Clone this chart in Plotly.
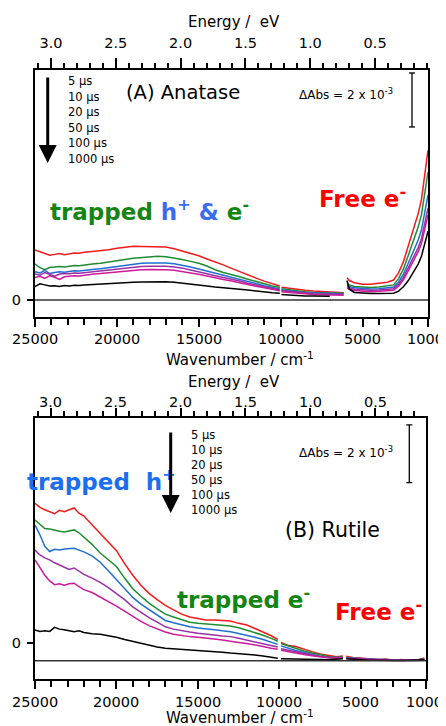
import plotly.graph_objects as go

# page body has an 8 px default margin: the figure is sized to fill the rest of the window
OFF = 8
W, H = 446 - OFF, 726 - OFF

# ---------------- data ----------------
wn_A = [25000, 24700, 24400, 24100, 23800, 23500, 23200, 22900, 22600, 22300, 22000, 21500, 21000, 20500,
        20000, 19500, 19000, 18500, 18000, 17500, 17000, 16500, 16000, 15500, 15000, 14500, 14000, 13500,
        13000, 12500, 12000, 11500, 11000, 10500, 10050,
        None,
        9950, 9500, 9000, 8500, 8000, 7500, 7000, 6500, 6150,
        None,
        5950, 5800, 5500, 5000, 4500, 4000, 3500, 3100, 2800, 2500, 2200, 2000, 1800, 1600, 1400, 1200, 1100, 1000]

A_5us = [1.85, 1.78, 1.72, 1.66, 1.69, 1.72, 1.68, 1.70, 1.74, 1.73, 1.77, 1.80, 1.83, 1.86,
         1.92, 1.95, 1.99, 1.98, 1.97, 1.98, 1.96, 1.90, 1.82, 1.74, 1.64, 1.52, 1.42, 1.30,
         1.17, 1.04, 0.92, 0.81, 0.70, 0.60, 0.52,
         None,
         0.47, 0.43, 0.40, 0.36, 0.33, 0.31, 0.30, 0.28, 0.27,
         None,
         0.82, 0.72, 0.64, 0.58, 0.58, 0.62, 0.66, 0.74, 1.00, 1.42, 2.00, 2.40, 2.75, 3.20, 3.72, 4.60, 5.00, 5.55]
A_10us = [1.33, 1.20, 1.12, 1.20, 1.22, 1.24, 1.22, 1.25, 1.28, 1.27, 1.30, 1.33, 1.36, 1.40,
          1.45, 1.50, 1.55, 1.58, 1.60, 1.62, 1.60, 1.56, 1.50, 1.43, 1.36, 1.26, 1.12, 1.02,
          0.95, 0.86, 0.77, 0.68, 0.60, 0.52, 0.46,
          None,
          0.42, 0.38, 0.35, 0.31, 0.28, 0.27, 0.26, 0.25, 0.25,
          None,
          0.62, 0.56, 0.50, 0.47, 0.46, 0.48, 0.51, 0.56, 0.79, 1.15, 1.66, 2.00, 2.31, 2.70, 3.15, 3.90, 4.26, 4.74]
A_20us = [1.05, 1.00, 1.10, 0.98, 1.02, 1.05, 1.03, 1.05, 1.08, 1.07, 1.10, 1.13, 1.16, 1.20,
          1.25, 1.29, 1.33, 1.36, 1.37, 1.38, 1.37, 1.34, 1.29, 1.22, 1.15, 1.07, 0.99, 0.91,
          0.84, 0.76, 0.68, 0.60, 0.53, 0.46, 0.41,
          None,
          0.38, 0.34, 0.31, 0.28, 0.26, 0.25, 0.24, 0.23, 0.23,
          None,
          0.55, 0.50, 0.45, 0.42, 0.41, 0.42, 0.44, 0.48, 0.66, 0.96, 1.37, 1.66, 1.91, 2.22, 2.59, 3.21, 3.50, 3.89]
A_50us = [0.96, 0.92, 1.02, 0.95, 0.88, 0.96, 0.98, 0.97, 1.00, 0.99, 1.01, 1.04, 1.07, 1.10,
          1.14, 1.18, 1.21, 1.24, 1.25, 1.26, 1.25, 1.22, 1.18, 1.11, 1.05, 0.97, 0.90, 0.84,
          0.77, 0.70, 0.62, 0.55, 0.48, 0.42, 0.37,
          None,
          0.34, 0.31, 0.28, 0.25, 0.23, 0.22, 0.21, 0.20, 0.20,
          None,
          0.50, 0.45, 0.40, 0.37, 0.36, 0.37, 0.39, 0.42, 0.58, 0.84, 1.20, 1.45, 1.67, 1.94, 2.26, 2.80, 3.05, 3.40]
A_100us = [0.83, 0.88, 0.80, 0.90, 0.84, 0.76, 0.86, 0.88, 0.90, 0.89, 0.92, 0.95, 0.98, 1.01,
           1.05, 1.08, 1.10, 1.12, 1.13, 1.13, 1.12, 1.10, 1.06, 1.00, 0.95, 0.88, 0.82, 0.76,
           0.70, 0.63, 0.57, 0.51, 0.45, 0.39, 0.34,
           None,
           0.31, 0.28, 0.25, 0.22, 0.20, 0.19, 0.18, 0.18, 0.18,
           None,
           0.45, 0.40, 0.35, 0.32, 0.31, 0.32, 0.33, 0.36, 0.51, 0.75, 1.09, 1.32, 1.53, 1.79, 2.09, 2.59, 2.83, 3.15]
A_1000us = [0.50, 0.60, 0.56, 0.52, 0.53, 0.50, 0.54, 0.52, 0.55, 0.54, 0.56, 0.58, 0.60, 0.60,
            0.63, 0.64, 0.66, 0.67, 0.68, 0.69, 0.68, 0.66, 0.63, 0.60, 0.57, 0.52, 0.48, 0.46,
            0.43, 0.40, 0.37, 0.33, 0.30, 0.27, 0.25,
            None,
            0.20, 0.18, 0.17, 0.15, 0.15, 0.14, 0.14, None, None,
            None,
            0.72, 0.40, 0.28, 0.25, 0.24, 0.24, 0.25, 0.25, 0.33, 0.49, 0.72, 0.92, 1.10, 1.33, 1.62, 2.05, 2.30, 2.55]

wn_B = [25000, 24700, 24400, 24100, 23800, 23500, 23200, 22900, 22600, 22300, 22000, 21500, 21000, 20500,
        20000, 19500, 19000, 18500, 18000, 17500, 17000, 16500, 16000, 15500, 15000, 14500, 14000, 13500,
        13000, 12500, 12000, 11500, 11000, 10500, 10100,
        None,
        9900, 9500, 9000, 8500, 8000, 7500, 7000, 6500, 6100,
        None,
        5900, 5500, 5000, 4500, 4000, 3500, 3000, 2500, 2000, 1500, 1100]

B_5us = [4.84, 4.70, 4.62, 4.55, 4.48, 4.60, 4.55, 4.62, 4.68, 4.50, 4.40, 4.10, 3.80, 3.50,
         3.20, 2.75, 2.35, 2.00, 1.72, 1.50, 1.30, 1.15, 1.00, 0.90, 0.85, 0.80, 0.80, 0.78,
         0.76, 0.68, 0.62, 0.50, 0.38, 0.25, 0.12,
         None,
         0.02, -0.08, -0.12, -0.22, -0.30, -0.38, -0.44, -0.48, -0.45,
         None,
         -0.46, -0.50, -0.52, -0.55, -0.58, -0.56, -0.60, -0.57, -0.60, -0.58, -0.52]
B_10us = [4.26, 4.12, 3.97, 3.95, 3.90, 3.87, 3.85, 3.88, 3.92, 3.82, 3.68, 3.42, 3.12, 2.90,
          2.65, 2.25, 1.88, 1.62, 1.38, 1.18, 1.00, 0.90, 0.80, 0.72, 0.68, 0.66, 0.64, 0.62,
          0.59, 0.53, 0.45, 0.36, 0.27, 0.16, 0.06,
          None,
          -0.02, -0.10, -0.18, -0.28, -0.35, -0.42, -0.47, -0.50, -0.48,
          None,
          -0.50, -0.52, -0.55, -0.57, -0.58, -0.59, -0.60, -0.58, -0.60, -0.59, -0.55]
B_20us = [4.09, 3.75, 3.35, 3.17, 3.25, 3.22, 3.26, 3.28, 3.28, 3.22, 3.16, 3.02, 2.80, 2.50,
          2.20, 1.90, 1.58, 1.35, 1.15, 0.98, 0.78, 0.70, 0.62, 0.56, 0.52, 0.50, 0.46, 0.42,
          0.39, 0.33, 0.27, 0.20, 0.12, 0.03, -0.05,
          None,
          -0.10, -0.18, -0.26, -0.33, -0.40, -0.46, -0.50, -0.51, -0.50,
          None,
          -0.52, -0.53, -0.56, -0.57, -0.58, -0.60, -0.59, -0.60, -0.60, -0.60, -0.56]
B_50us = [3.22, 3.05, 2.95, 2.88, 2.78, 2.70, 2.62, 2.55, 2.60, 2.50, 2.38, 2.25, 2.10, 1.92,
          1.72, 1.50, 1.25, 1.05, 0.88, 0.72, 0.56, 0.48, 0.42, 0.38, 0.34, 0.32, 0.28, 0.24,
          0.22, 0.16, 0.10, 0.04, -0.02, -0.08, -0.14,
          None,
          -0.20, -0.25, -0.30, -0.37, -0.42, -0.47, -0.50, -0.52, -0.50,
          None,
          -0.53, -0.54, -0.56, -0.58, -0.59, -0.60, -0.60, -0.61, -0.60, -0.61, -0.57]
B_100us = [2.88, 2.60, 2.35, 2.15, 2.02, 2.05, 2.00, 2.05, 2.07, 1.95, 1.85, 1.75, 1.60, 1.45,
           1.28, 1.10, 0.92, 0.75, 0.60, 0.48, 0.38, 0.30, 0.25, 0.22, 0.20, 0.18, 0.14, 0.10,
           0.05, 0.02, -0.02, -0.06, -0.12, -0.18, -0.22,
           None,
           -0.25, -0.30, -0.34, -0.40, -0.44, -0.48, -0.51, -0.52, -0.50,
           None,
           -0.54, -0.55, -0.57, -0.58, -0.60, -0.60, -0.61, -0.60, -0.61, -0.60, -0.58]
B_1000us = [0.45, 0.40, 0.42, 0.40, 0.54, 0.48, 0.46, 0.42, 0.39, 0.42, 0.36, 0.32, 0.30, 0.25,
            0.20, 0.12, 0.05, -0.02, -0.08, -0.14, -0.18, -0.20, -0.21, -0.22, -0.26, -0.27, -0.30, -0.32,
            -0.35, -0.37, -0.38, -0.42, -0.45, -0.50, -0.53,
            None,
            -0.55, -0.55, -0.56, -0.56, -0.57, -0.57, -0.58, -0.57, -0.55,
            None,
            -0.55, -0.57, -0.58, -0.60, -0.60, -0.61, -0.60, -0.61, -0.60, -0.60, -0.58]

series_names = ["5 µs", "10 µs", "20 µs", "50 µs", "100 µs", "1000 µs"]
series_colors = ["#f21a1a", "#1e8c32", "#1f6fd1", "#9a2fa6", "#cc1a9a", "#000000"]
A_series = [A_5us, A_10us, A_20us, A_50us, A_100us, A_1000us]
B_series = [B_5us, B_10us, B_20us, B_50us, B_100us, B_1000us]

wn_ticks = [25000, 20000, 15000, 10000, 5000, 1000]
wn_ticktext = ["25000", "20000", "15000", "10000", "5000", "1000"]
wn_minor = [24000, 23000, 22000, 21000, 19000, 18000, 17000, 16000, 14000, 13000, 12000, 11000,
            9000, 8000, 7000, 6000, 4000, 3000, 2000]
ev_ticks = [3.0, 2.5, 2.0, 1.5, 1.0, 0.5]
ev_ticktext = ["3.0", "2.5", "2.0", "1.5", "1.0", "0.5"]
ev_minor = [3.1, 2.9, 2.8, 2.7, 2.6, 2.4, 2.3, 2.2, 2.1, 1.9, 1.8, 1.7, 1.6, 1.4, 1.3, 1.2, 1.1,
            0.9, 0.8, 0.7, 0.6, 0.4, 0.3, 0.2, 0.1]
scale_bar = 2.0            # ΔAbs = 2 x 10^-3 (in units of 1e-3)
B_baseline = -0.62

# ---------------- layout helpers ----------------
FONT = "DejaVu Sans"


def px(x):
    return (x - OFF) / W


def py(y):
    return 1 - (y - OFF) / H


fig = go.Figure()

for name, col, ys in zip(series_names, series_colors, A_series):
    fig.add_trace(go.Scatter(x=wn_A, y=ys, mode="lines", name=name, xaxis="x", yaxis="y",
                             line=dict(color=col, width=1.5), connectgaps=False, showlegend=False))
for name, col, ys in zip(series_names, series_colors, B_series):
    fig.add_trace(go.Scatter(x=wn_B, y=ys, mode="lines", name=name, xaxis="x3", yaxis="y3",
                             line=dict(color=col, width=1.5), connectgaps=False, showlegend=False))

# invisible traces so the top (energy) axes get drawn
fig.add_trace(go.Scatter(x=ev_ticks, y=[0] * len(ev_ticks), mode="markers", xaxis="x2", yaxis="y",
                         marker=dict(opacity=0), hoverinfo="skip", showlegend=False))
fig.add_trace(go.Scatter(x=ev_ticks, y=[0] * len(ev_ticks), mode="markers", xaxis="x4", yaxis="y3",
                         marker=dict(opacity=0), hoverinfo="skip", showlegend=False))

domA_x = [px(35), px(428)]
domA_y = [py(317), py(70)]
domB_x = [px(35), px(426)]
domB_y = [py(679.3), py(418.3)]

tickfont = dict(family=FONT, size=14.5, color="black")


def bottom_axis(domain, anchor):
    return dict(domain=domain, anchor=anchor, range=[25000, 1000], tickmode="array",
                tickvals=wn_ticks, ticktext=wn_ticktext, showticklabels=False,
                ticks="outside", ticklen=8, tickwidth=1.5, tickcolor="black",
                showline=True, linewidth=2, linecolor="black", mirror=False, automargin=False,
                showgrid=False, zeroline=False, tickfont=tickfont,
                minor=dict(tickmode="array", tickvals=wn_minor, ticks="outside", ticklen=6,
                           tickwidth=1.5, tickcolor="black", showgrid=False))


def top_axis(overlay, anchor, rng, ticklen, show_labels):
    return dict(overlaying=overlay, anchor=anchor, side="top", range=rng, tickmode="array",
                tickvals=ev_ticks, ticktext=ev_ticktext, ticks="outside", ticklen=ticklen, tickwidth=1.5,
                tickcolor="black", showline=True, linewidth=2, linecolor="black", showgrid=False,
                zeroline=False, tickfont=tickfont, ticklabelstandoff=4, automargin=False,
                showticklabels=show_labels, ticklabeloverflow="allow",
                minor=dict(tickmode="array", tickvals=ev_minor, ticks="outside", ticklen=5,
                           tickwidth=1.5, tickcolor="black", showgrid=False))


def left_axis(domain, anchor, rng):
    return dict(domain=domain, anchor=anchor, range=rng, tickmode="array", tickvals=[0], ticktext=["0"],
                ticks="outside", ticklen=6, tickwidth=1.5, tickcolor="black",
                showline=True, linewidth=2, linecolor="black", mirror=True, automargin=False,
                showgrid=False, zeroline=False, tickfont=tickfont, ticklabelstandoff=3)


fig.update_layout(
    template="none",
    width=W, height=H, autosize=False,
    margin=dict(l=0, r=0, t=0, b=0, pad=0),
    paper_bgcolor="white", plot_bgcolor="white",
    font=dict(family=FONT, color="black"),
    showlegend=False,
    xaxis=bottom_axis(domA_x, "y"),
    xaxis2=top_axis("x", "y", [3.123, 0.092], 10, True),
    yaxis=left_axis(domA_y, "x", [-0.63, 8.52]),
    xaxis3=bottom_axis(domB_x, "y3"),
    xaxis4=top_axis("x3", "y3", [3.123, 0.108], 8, False),
    yaxis3=left_axis(domB_y, "x3", [-1.26, 7.79]),
)

shapes = []
# zero / baseline lines
shapes.append(dict(type="line", xref="x domain", yref="y", x0=0, x1=1, y0=0, y1=0,
                   line=dict(color="#333", width=1.5)))
shapes.append(dict(type="line", xref="x3 domain", yref="y3", x0=0, x1=1, y0=B_baseline, y1=B_baseline,
                   line=dict(color="#333", width=1.5)))


def scalebar(xpx, xref_dom, yref, y0, x_left, x_span):
    xf = (xpx - x_left) / x_span
    cap = 3 / x_span
    out = [dict(type="line", xref=xref_dom, yref=yref, x0=xf, x1=xf, y0=y0, y1=y0 + scale_bar,
                line=dict(color="black", width=1.3))]
    for yy in (y0, y0 + scale_bar):
        out.append(dict(type="line", xref=xref_dom, yref=yref, x0=xf - cap, x1=xf + cap, y0=yy, y1=yy,
                        line=dict(color="black", width=1.3)))
    return out


shapes += scalebar(412, "x domain", "y", 6.41, 35, 393)
shapes += scalebar(409.3, "x3 domain", "y3", 5.56, 35, 391)
fig.update_layout(shapes=shapes)

ann = []


def text(x, y, s, size, color="black", xanchor="left", bold=False):
    ann.append(dict(x=px(x), y=py(y), xref="paper", yref="paper", text=s, showarrow=False,
                    xanchor=xanchor, yanchor="middle",
                    font=dict(family=FONT, size=size, color=color, weight="bold" if bold else "normal")))


def axis_labels(xref, vals, labels, ypix, last_shift=0):
    for i, (v, t) in enumerate(zip(vals, labels)):
        ann.append(dict(x=v, y=py(ypix), xref=xref, yref="paper", text=t, showarrow=False,
                        xanchor="center", yanchor="middle", font=tickfont,
                        xshift=last_shift if i == len(vals) - 1 else 0))


# Panel A texts
text(234, 22, "Energy /  eV", 15, xanchor="center")
axis_labels("x", wn_ticks, wn_ticktext, 339, last_shift=-3)
text(240, 359, "Wavenumber / cm<sup>-1</sup>", 15, xanchor="center")
text(124, 92, "(A) Anatase", 19.5)
text(297, 94, "ΔAbs = 2 x 10<sup>-3</sup>", 12)
for i, nm in enumerate(series_names):
    text(66, 81 + i * 15.6, nm, 11.5)
text(48, 210, "trapped <span style='color:#3a6cf0'>h<sup>+</sup> &amp;</span> e<sup>-</sup>", 23,
     color="#128512", bold=True)
text(317, 197, "Free e<sup>-</sup>", 23, color="#ff0000", bold=True)

# Panel B texts
text(234, 382, "Energy /  eV", 15, xanchor="center")
axis_labels("x4", ev_ticks, ev_ticktext, 401.5)
axis_labels("x3", wn_ticks, wn_ticktext, 701.5, last_shift=-2)
text(240, 717, "Wavenumber / cm<sup>-1</sup>", 15, xanchor="center")
text(297, 452, "ΔAbs = 2 x 10<sup>-3</sup>", 12)
for i, nm in enumerate(series_names):
    text(189, 435 + i * 15.0, nm, 11.5)
text(25, 480, "trapped  h<sup>+</sup>", 23, color="#1a6ff0", bold=True)
text(283, 530, "(B) Rutile", 20.5)
text(175, 598, "trapped e<sup>-</sup>", 23, color="#128512", bold=True)
text(333, 610, "Free e<sup>-</sup>", 23, color="#ff0000", bold=True)

# arrows
for (ax_x, tail, head) in [(47.7, 76, 163), (170.7, 431, 513)]:
    ann.append(dict(x=px(ax_x), y=py(head), xref="paper", yref="paper", text="", showarrow=True,
                    ax=0, ay=tail - head, axref="pixel", ayref="pixel", arrowhead=2, arrowsize=1.2,
                    arrowwidth=3, arrowcolor="black", standoff=0, startstandoff=0))

fig.update_layout(annotations=ann)
fig.write_html("out.html")
